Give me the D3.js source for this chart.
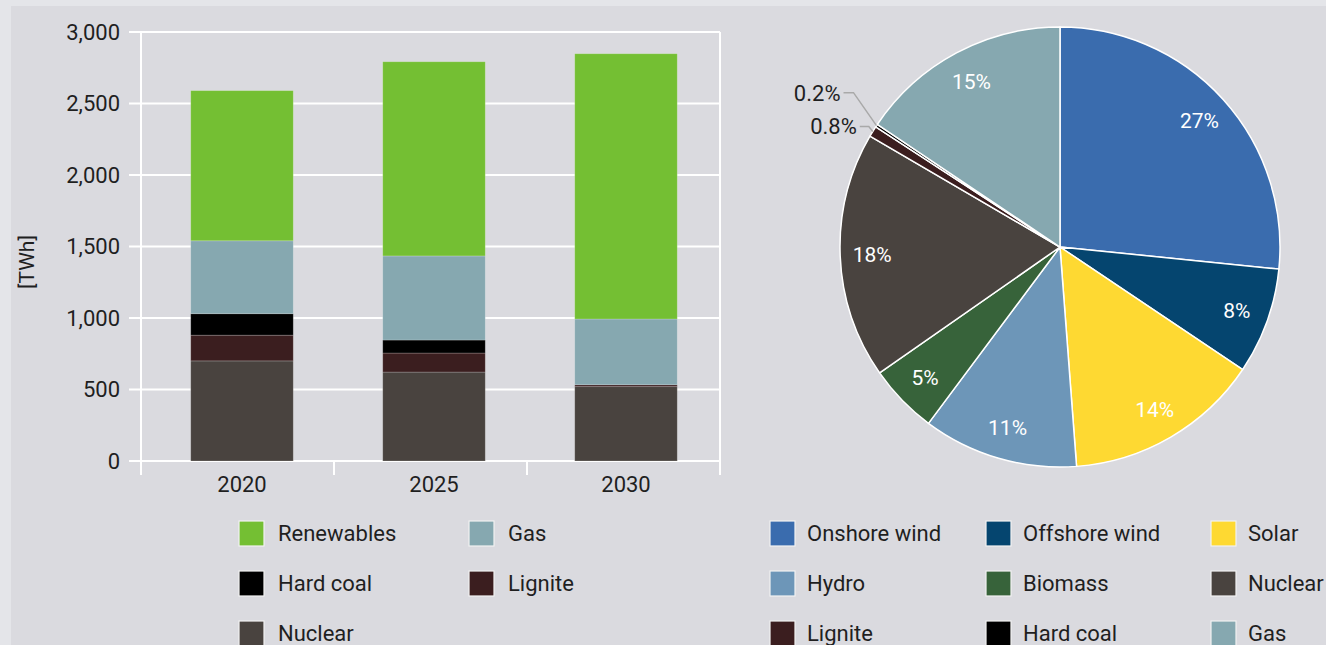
<!DOCTYPE html>
<html>
<head>
<meta charset="utf-8">
<script src="https://cdn.jsdelivr.net/npm/d3@7"></script>
<style>
  html, body { margin: 0; padding: 0; background: #e4e5e9; }
  svg { display: block; font-family: Roboto, "Noto Sans", sans-serif; }
</style>
</head>
<body>
<svg id="chart" width="1326" height="645"></svg>
<script>
// Bar chart data (TWh)
const years = ['2020', '2025', '2030'];
const barSeries = ['Nuclear', 'Lignite', 'Hard coal', 'Gas', 'Renewables'];
const nuclearValues = [700, 622, 520];
const ligniteValues = [180, 133, 13];
const hardCoalValues = [150, 91, 0];
const gasValues = [510, 588, 460];
const renewablesValues = [1050, 1358, 1855];
const yTicks = [0, 500, 1000, 1500, 2000, 2500, 3000];

// Pie chart data (share, %)
const pieCategories = ['Onshore wind', 'Offshore wind', 'Solar', 'Hydro', 'Biomass', 'Nuclear', 'Lignite', 'Hard coal', 'Gas'];
const pieValues = [26.6, 7.8, 14.4, 11.4, 5.1, 18.1, 0.8, 0.2, 15.6];
const pieLabels = ['27%', '8%', '14%', '11%', '5%', '18%', '0.8%', '0.2%', '15%'];

// Legends
const barLegend = ['Renewables', 'Gas', 'Hard coal', 'Lignite', 'Nuclear'];
const pieLegend = ['Onshore wind', 'Offshore wind', 'Solar', 'Hydro', 'Biomass', 'Nuclear', 'Lignite', 'Hard coal', 'Gas'];

const colors = {
    'Renewables': '#74bf33',
    'Gas': '#86a8b0',
    'Hard coal': '#000000',
    'Lignite': '#3b1e1f',
    'Nuclear': '#49433f',
    'Onshore wind': '#3a6cae',
    'Offshore wind': '#05456f',
    'Solar': '#fed932',
    'Hydro': '#6d96b8',
    'Biomass': '#37633a'
};

const textColor = '#1f1f1f';
const svg = d3.select('#chart');

// Panel background
svg.append('rect').attr('width', 1326).attr('height', 645).attr('fill', '#e4e5e9');
svg.append('rect').attr('x', 11).attr('y', 6).attr('width', 1315).attr('height', 639).attr('fill', '#dadadf');

// ---- Stacked bar chart ----
// category slots (for the axis ticks) and bar positions
const slots = d3.scaleBand().domain(years).range([141, 720]);
const x = d3.scaleBand().domain(years).range([146, 722]).paddingInner(0.466).paddingOuter(0.233);
const y = d3.scaleLinear().domain([0, 3000]).range([461, 32]);

const table = years.map((yr, i) => ({
    year: yr,
    'Nuclear': nuclearValues[i],
    'Lignite': ligniteValues[i],
    'Hard coal': hardCoalValues[i],
    'Gas': gasValues[i],
    'Renewables': renewablesValues[i]
}));
const stacked = d3.stack().keys(barSeries)(table);

// gridlines
const grid = svg.append('g');
grid.selectAll('line')
    .data(yTicks)
    .join('line')
    .attr('x1', 129).attr('x2', 720)
    .attr('y1', d => y(d)).attr('y2', d => y(d))
    .attr('stroke', '#fff').attr('stroke-width', 2);

// vertical axis line, right border and category ticks
grid.append('line').attr('x1', 141).attr('x2', 141).attr('y1', 32).attr('y2', 475)
    .attr('stroke', '#fff').attr('stroke-width', 2);
grid.selectAll('.btick')
    .data(years)
    .join('line')
    .attr('class', 'btick')
    .attr('x1', d => slots(d) + slots.bandwidth()).attr('x2', d => slots(d) + slots.bandwidth())
    .attr('y1', (d, i) => i === years.length - 1 ? 32 : 461).attr('y2', 475)
    .attr('stroke', '#fff').attr('stroke-width', 2);

// bars
svg.append('g')
    .selectAll('g')
    .data(stacked)
    .join('g')
    .attr('fill', d => colors[d.key])
    .selectAll('rect')
    .data(d => d.filter(s => s[1] - s[0] > 0))
    .join('rect')
    .attr('x', d => x(d.data.year))
    .attr('width', x.bandwidth())
    .attr('y', d => y(d[1]))
    .attr('height', d => y(d[0]) - y(d[1]))
    .attr('stroke', 'rgba(255,255,255,0.25)')
    .attr('stroke-width', 0.8);

// y axis labels
const fmt = d3.format(',');
svg.append('g')
    .selectAll('text')
    .data(yTicks)
    .join('text')
    .attr('x', 120)
    .attr('y', d => y(d))
    .attr('dy', '0.36em')
    .attr('text-anchor', 'end')
    .attr('font-size', 22)
    .attr('fill', textColor)
    .text(d => fmt(d));

svg.append('text')
    .attr('transform', 'translate(34,262) rotate(-90)')
    .attr('text-anchor', 'middle')
    .attr('font-size', 21)
    .attr('fill', textColor)
    .text('[TWh]');

// x labels
svg.append('g')
    .selectAll('text')
    .data(years)
    .join('text')
    .attr('x', d => x(d) + x.bandwidth() / 2)
    .attr('y', 492)
    .attr('text-anchor', 'middle')
    .attr('font-size', 22)
    .attr('fill', textColor)
    .text(d => d);

// ---- Pie chart ----
const cx = 1060, cy = 247, radius = 220;
const pieData = d3.pie().sort(null).value(d => d.value)(
    pieCategories.map((c, i) => ({ name: c, value: pieValues[i], label: pieLabels[i] }))
);
const arc = d3.arc().innerRadius(0).outerRadius(radius);
const labelArc = d3.arc().innerRadius(188).outerRadius(188);
const outerArc = d3.arc().innerRadius(radius).outerRadius(radius);

const pieG = svg.append('g').attr('transform', `translate(${cx},${cy})`);
pieG.selectAll('path')
    .data(pieData)
    .join('path')
    .attr('d', arc)
    .attr('fill', d => colors[d.data.name])
    .attr('stroke', '#fff')
    .attr('stroke-width', 1.5)
    .attr('stroke-linejoin', 'round');

// inside labels for larger slices
pieG.selectAll('text.inside')
    .data(pieData.filter(d => d.data.value >= 2))
    .join('text')
    .attr('class', 'inside')
    .attr('x', d => labelArc.centroid(d)[0])
    .attr('y', d => labelArc.centroid(d)[1])
    .attr('dy', '0.36em')
    .attr('text-anchor', 'middle')
    .attr('font-size', 21)
    .attr('fill', '#fff')
    .text(d => d.data.label);

// leader labels for tiny slices
const leaderOffsets = { 'Hard coal': [[-23, -33], [-33, -33]], 'Lignite': [[-4, -5], [-13, -5]] };
const small = pieData.filter(d => d.data.value < 2);
small.forEach(d => {
    const p = outerArc.centroid(d);
    const off = leaderOffsets[d.data.name];
    const pts = [p, [p[0] + off[0][0], p[1] + off[0][1]], [p[0] + off[1][0], p[1] + off[1][1]]];
    pieG.append('path')
        .attr('d', d3.line()(pts))
        .attr('fill', 'none')
        .attr('stroke', '#a9a9a9')
        .attr('stroke-width', 1.5);
    pieG.append('text')
        .attr('x', pts[2][0] - 3)
        .attr('y', pts[2][1])
        .attr('dy', '0.36em')
        .attr('text-anchor', 'end')
        .attr('font-size', 22)
        .attr('fill', textColor)
        .text(d.data.label);
});

// ---- Legends ----
function drawLegend(items, colX, textX, rowTop) {
    const g = svg.append('g');
    items.forEach((name, i) => {
        const col = i % colX.length;
        const row = Math.floor(i / colX.length);
        const top = rowTop + row * 50;
        g.append('rect')
            .attr('x', colX[col]).attr('y', top)
            .attr('width', 25).attr('height', 25)
            .attr('fill', colors[name])
            .attr('stroke', '#f2f2f2').attr('stroke-width', 1.2);
        g.append('text')
            .attr('x', textX[col]).attr('y', top + 12.5)
            .attr('dy', '0.36em')
            .attr('font-size', 22)
            .attr('fill', textColor)
            .text(name);
    });
}
drawLegend(barLegend, [239, 469], [278, 508], 521);
drawLegend(pieLegend, [770, 986, 1211], [807, 1023, 1248], 521);
</script>
</body>
</html>
